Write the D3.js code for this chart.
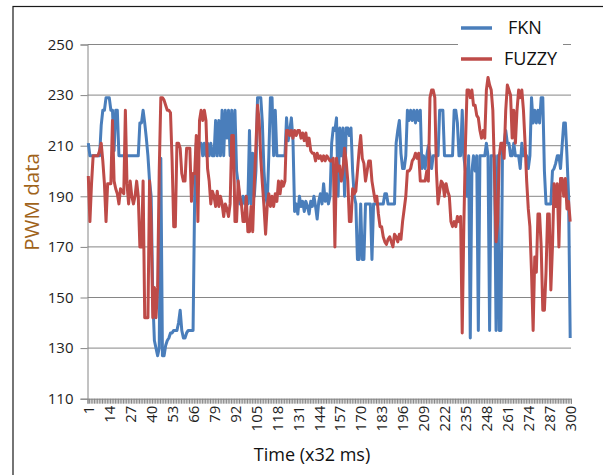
<!DOCTYPE html>
<html lang="en">
<head>
    <meta charset="UTF-8">
    <title>PWM data: FKN vs FUZZY</title>
    <script src="https://d3js.org/d3.v7.min.js"></script>
    <style>
        body { margin: 0; background: #fff; }
        text { font-family: "Open Sans", "Noto Sans", sans-serif; }
    </style>
</head>
<body>
    <div id="chart"></div>
    <script>
        // values, one per sample (1..300)
        const fkn = [
            211, 206, 206, 206, 206, 206, 206, 206, 218, 224,
            224, 229, 229, 229, 224, 224, 208, 224, 224, 206,
            206, 206, 206, 206, 206, 206, 206, 206, 206, 206,
            206, 206, 219, 219, 224, 219, 213, 206, 196, 190,
            150, 133, 130, 127, 130, 205, 127, 127, 131, 133,
            134, 136, 136, 137, 137, 137, 140, 145, 137, 134,
            134, 136, 137, 137, 137, 137, 190, 211, 211, 211,
            211, 206, 211, 206, 211, 206, 211, 206, 206, 220,
            206, 220, 206, 224, 206, 224, 213, 224, 206, 224,
            206, 224, 200, 195, 187, 187, 190, 187, 190, 187,
            216, 187, 207, 190, 200, 229, 229, 229, 219, 200,
            190, 187, 206, 229, 229, 206, 224, 206, 206, 206,
            206, 206, 206, 221, 212, 216, 221, 212, 184, 187,
            183, 190, 186, 188, 184, 188, 186, 183, 188, 186,
            190, 186, 181, 188, 191, 187, 195, 188, 191, 187,
            190, 211, 217, 216, 221, 190, 217, 206, 217, 190,
            217, 217, 214, 217, 200, 190, 187, 165, 165, 187,
            165, 165, 187, 187, 187, 187, 165, 187, 187, 187,
            187, 187, 187, 187, 191, 191, 187, 187, 187, 187,
            187, 211, 216, 220, 207, 201, 201, 206, 224, 220,
            224, 220, 224, 219, 224, 220, 224, 201, 206, 201,
            206, 210, 206, 201, 206, 206, 206, 206, 224, 224,
            224, 206, 206, 206, 206, 206, 206, 224, 224, 219,
            206, 206, 224, 206, 200, 190, 206, 134, 200, 206,
            200, 206, 137, 206, 206, 206, 206, 211, 206, 137,
            206, 206, 206, 137, 206, 137, 137, 209, 211, 216,
            211, 211, 206, 206, 211, 206, 206, 206, 201, 211,
            206, 206, 206, 201, 206, 229, 219, 224, 219, 224,
            219, 229, 229, 200, 187, 187, 187, 187, 200, 201,
            203, 206, 206, 201, 210, 219, 219, 206, 190, 134
        ];
        const fuzzy = [
            198, 180, 195, 206, 206, 206, 206, 208, 211, 204,
            195, 180, 195, 195, 195, 220, 196, 193, 191, 187,
            193, 192, 191, 224, 195, 187, 196, 190, 187, 190,
            196, 190, 170, 170, 196, 142, 142, 142, 196, 180,
            142, 154, 142, 154, 200, 229, 229, 228, 226, 224,
            224, 223, 204, 178, 178, 211, 211, 209, 199, 196,
            196, 209, 209, 209, 188, 199, 199, 214, 180, 220,
            224, 220, 224, 220, 201, 196, 187, 192, 190, 186,
            192, 186, 190, 187, 182, 187, 185, 182, 187, 214,
            214, 180, 180, 196, 190, 187, 180, 180, 190, 176,
            176, 186, 176, 195, 210, 226, 220, 205, 195, 186,
            175, 186, 191, 186, 190, 186, 191, 188, 196, 191,
            196, 194, 196, 216, 216, 214, 216, 213, 216, 214,
            216, 216, 213, 215, 212, 215, 210, 213, 208, 207,
            207, 204, 207, 205, 206, 204, 206, 204, 206, 205,
            204, 204, 205, 170, 205, 200, 202, 196, 200, 209,
            204, 196, 180, 180, 193, 191, 192, 200, 208, 214,
            205, 203, 196, 200, 204, 204, 196, 192, 188, 190,
            183, 178, 178, 174, 172, 171, 173, 174, 172, 170,
            175, 174, 172, 175, 173, 180, 185, 190, 200, 200,
            201, 204, 205, 207, 205, 207, 196, 196, 196, 196,
            200, 196, 229, 232, 232, 229, 200, 187, 192, 196,
            195, 190, 195, 192, 190, 180, 178, 180, 178, 182,
            180, 182, 136, 178, 210, 232, 232, 229, 232, 226,
            226, 222, 221, 216, 213, 216, 213, 232, 237, 234,
            232, 224, 200, 172, 180, 206, 211, 211, 205, 224,
            234, 232, 230, 213, 224, 211, 224, 232, 229, 232,
            224, 211, 196, 185, 178, 160, 137, 166, 160, 183,
            183, 170, 145, 145, 160, 183, 183, 153, 170, 195,
            186, 195, 170, 197, 197, 190, 197, 185, 188, 180
        ];
        const seriesNames = ["FKN", "FUZZY"];
        const seriesColors = ["#4a7ebb", "#be4b48"];
        const yTicks = [110, 130, 150, 170, 190, 210, 230, 250];
        const xLabels = d3.range(1, 301, 13);   // 1, 14, 27 ... 300

        const W = 603, H = 475;
        const plotLeft = 87.5, plotRight = 571, plotTop = 44.5, plotBottom = 398.7;

        const svg = d3.select("#chart")
            .append("svg")
            .attr("width", W)
            .attr("height", H);

        // frame of the chart object
        svg.append("rect")
            .attr("x", 13).attr("y", 6.5)
            .attr("width", 700).attr("height", 600)
            .attr("fill", "none")
            .attr("stroke", "#1a1a1a")
            .attr("stroke-width", 1.2);

        const x = d3.scaleLinear().domain([0.5, 300.5]).range([plotLeft, plotRight]);
        const y = d3.scaleLinear().domain([110, 250]).range([plotBottom, plotTop]);

        // horizontal grid + y axis
        const yAxis = svg.append("g")
            .attr("transform", `translate(${plotLeft},0)`)
            .call(d3.axisLeft(y).tickValues(yTicks).tickSize(7).tickPadding(7));
        yAxis.select(".domain").attr("stroke", "#868686");
        yAxis.selectAll(".tick line").attr("stroke", "#868686");
        yAxis.selectAll(".tick text")
            .attr("font-size", 15)
            .attr("fill", "#1e1e1e")
            .style("font-family", "'Open Sans', sans-serif");
        svg.append("g")
            .selectAll("line")
            .data(yTicks.filter(v => v > 110))
            .join("line")
            .attr("x1", plotLeft).attr("x2", plotRight)
            .attr("y1", d => y(d)).attr("y2", d => y(d))
            .attr("stroke", "#868686")
            .attr("stroke-width", 1);

        // x axis: a tick between every category, labels every 13th
        const xTickAxis = svg.append("g")
            .attr("transform", `translate(0,${plotBottom})`)
            .call(d3.axisBottom(x)
                .tickValues(d3.range(0.5, 301, 1))
                .tickSize(5)
                .tickFormat(""));
        xTickAxis.select(".domain").attr("stroke", "#868686");
        xTickAxis.selectAll(".tick line").attr("stroke", "#868686");

        const xLabelAxis = svg.append("g")
            .attr("transform", `translate(0,${plotBottom})`)
            .call(d3.axisBottom(x).tickValues(xLabels).tickSize(0).tickFormat(d3.format("d")));
        xLabelAxis.select(".domain").remove();
        xLabelAxis.selectAll(".tick text")
            .attr("font-size", 15)
            .attr("fill", "#1e1e1e")
            .attr("transform", "rotate(-90)")
            .attr("text-anchor", "end")
            .attr("dx", -7)
            .attr("dy", "0.35em")
            .attr("x", 0).attr("y", 0)
            .style("font-family", "'Open Sans', sans-serif");

        // series
        const line = d3.line()
            .x((d, i) => x(i + 1))
            .y(d => y(d));

        [fkn, fuzzy].forEach((values, k) => {
            svg.append("path")
                .datum(values)
                .attr("fill", "none")
                .attr("stroke", seriesColors[k])
                .attr("stroke-width", 3)
                .attr("stroke-linejoin", "round")
                .attr("d", line);
        });

        // legend
        const legend = svg.append("g");
        legend.append("rect")
            .attr("x", 458).attr("y", 12)
            .attr("width", 105).attr("height", 60)
            .attr("fill", "#fff");
        seriesNames.forEach((name, k) => {
            const ly = 28 + k * 31;
            legend.append("line")
                .attr("x1", 461).attr("x2", 492)
                .attr("y1", ly).attr("y2", ly)
                .attr("stroke", seriesColors[k])
                .attr("stroke-width", 3.5);
            legend.append("text")
                .attr("x", k === 0 ? 508 : 504)
                .attr("y", ly)
                .attr("dy", "0.35em")
                .attr("font-size", 18)
                .attr("fill", "#111")
                .text(name);
        });

        // axis titles
        svg.append("text")
            .attr("x", 312).attr("y", 461)
            .attr("text-anchor", "middle")
            .attr("font-size", 18)
            .attr("fill", "#111")
            .text("Time (x32 ms)");

        svg.append("text")
            .attr("transform", "translate(39,202) rotate(-90)")
            .attr("text-anchor", "middle")
            .attr("font-size", 20.5)
            .attr("fill", "#a0631a")
            .text("PWM data");
    </script>
</body>
</html>
